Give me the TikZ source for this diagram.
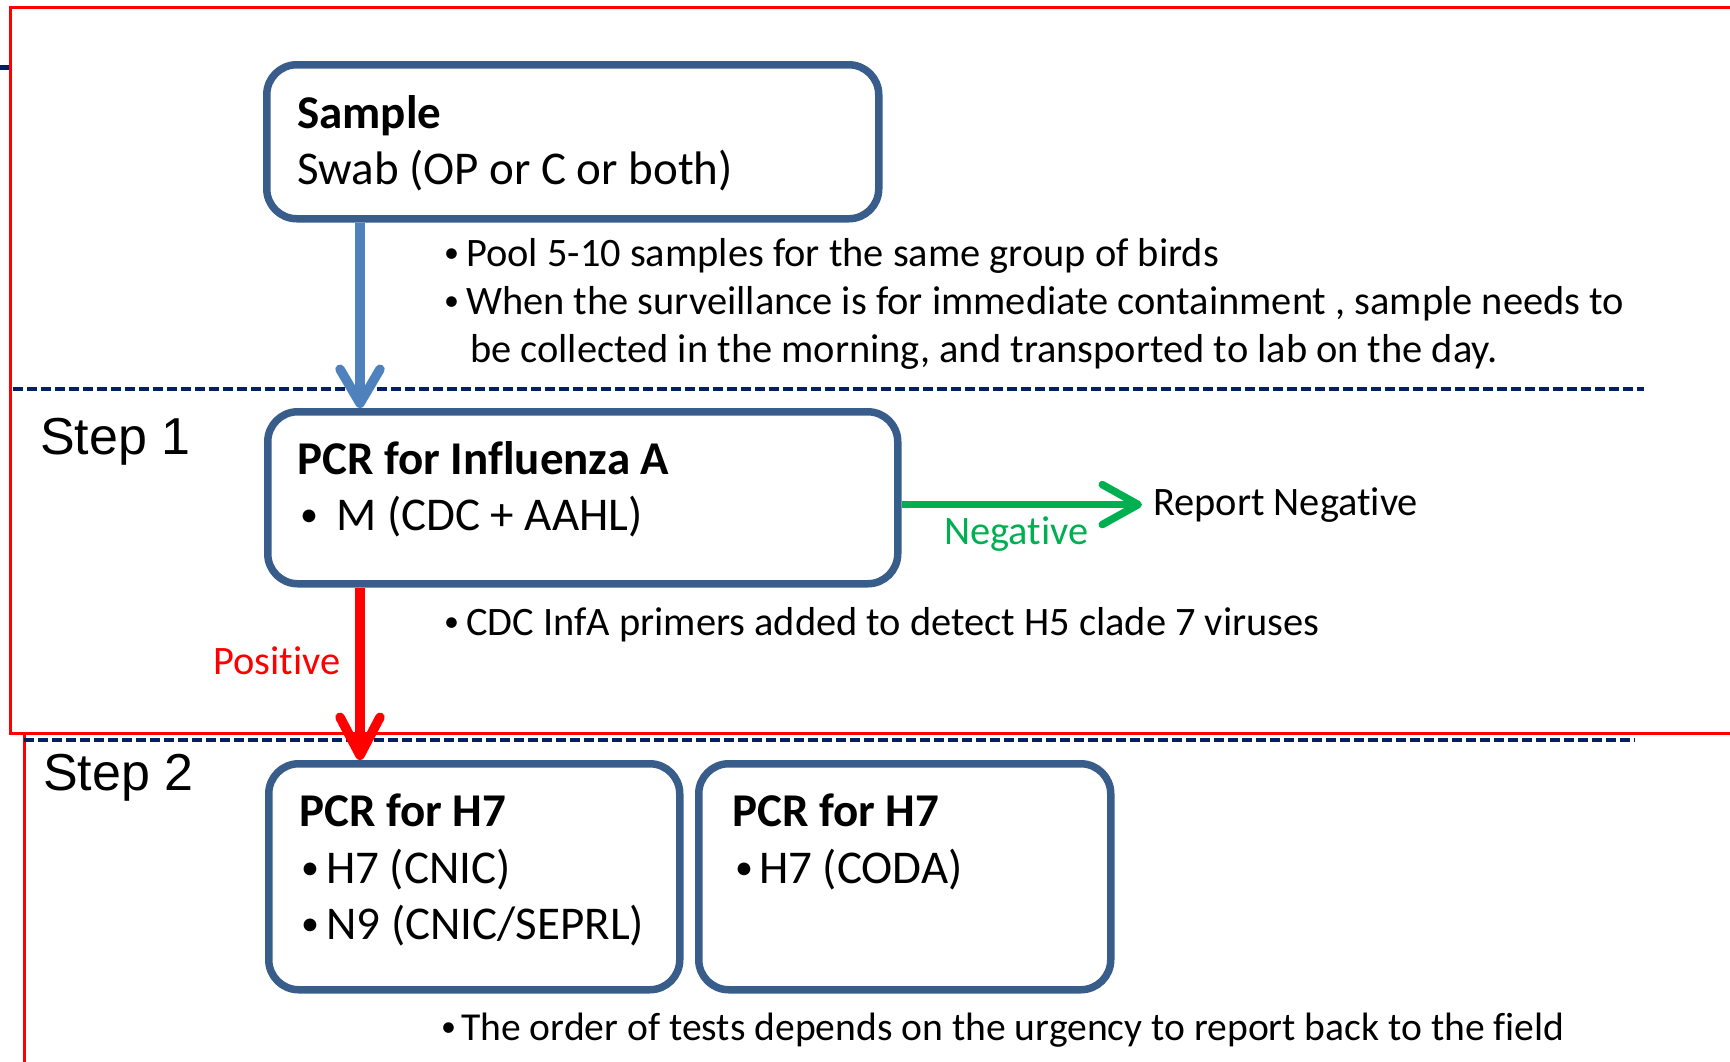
\documentclass[tikz,border=0pt]{standalone}
\usepackage{fontspec}
\setmainfont{Carlito}[Ligatures={TeX,CommonOff}]
\newfontfamily\arialf{Liberation Sans}
\usetikzlibrary{arrows.meta}
\definecolor{boxblue}{RGB}{56,93,138}
\definecolor{arrblue}{RGB}{79,129,189}
\definecolor{navy}{RGB}{0,32,96}
\definecolor{grn}{RGB}{0,176,80}
\definecolor{redc}{RGB}{255,0,0}
\begin{document}
\begin{tikzpicture}[x=1pt,y=-1pt,
  box/.style={draw=boxblue, line width=7.5pt, rounded corners=30pt, inner sep=0pt, anchor=north west},
  big/.style={anchor=base west, inner sep=0pt, font=\fontsize{47}{56}\selectfont},
  bigb/.style={big, font=\fontsize{47}{56}\selectfont\bfseries},
  bigdot/.style={anchor=base west, inner sep=0pt, font=\fontsize{36}{40}\selectfont},
  small/.style={anchor=base west, inner sep=0pt, font=\fontsize{40.4}{48}\selectfont},
  smalldot/.style={anchor=base west, inner sep=0pt, font=\fontsize{30}{36}\selectfont},
  steplbl/.style={anchor=base west, inner sep=0pt, font=\fontsize{52}{60}\arialf\selectfont},
  sep/.style={draw=navy, line width=4.5pt, dash pattern=on 10pt off 4pt},
  frame/.style={draw=redc, line width=3pt},
  flow/.style={line width=8.5pt},
]
\useasboundingbox (0,0) rectangle (1730,1061);

% red frames
\draw[frame] (10,7) rectangle (1760,733);
\draw[frame] (24,733) -- (24,1090);
\draw[navy, line width=5pt] (0,67) -- (9,67);

% dashed separators
\draw[sep] (13,389) -- (1644,389);
\draw[sep] (24,740) -- (1635,740);

% boxes
\node[box, minimum width=612pt, minimum height=154pt] (sample) at (263,61) {};
\node[box, minimum width=630pt, minimum height=172pt] (pcrA) at (264,408) {};
\node[box, minimum width=411pt, minimum height=226pt] (h7a) at (265,760) {};
\node[box, minimum width=412pt, minimum height=226pt] (h7b) at (695,760) {};

% box texts
\node[bigb] (t1) at (297,128) {Sample};
\node[big] (t2) at (297,184) {Swab (OP or C or both)};
\node[bigb] (t3) at (297,474) {PCR for Influenza A};
\node[bigdot] (t4b) at (300,526) {•};
\node[big] (t4) at (336,530) {M (CDC + AAHL)};
\node[bigb] (t5) at (299,826) {PCR for H7};
\node[bigdot] (t6b) at (301,879) {•};
\node[big] (t6) at (326,883) {H7 (CNIC)};
\node[bigdot] (t7b) at (301,935) {•};
\node[big] (t7) at (326,939) {N9 (CNIC/SEPRL)};
\node[bigb] (t8) at (732,826) {PCR for H7};
\node[bigdot] (t9b) at (735,879) {•};
\node[big] (t9) at (759,883) {H7 (CODA)};

% step labels
\node[steplbl] (s1) at (40,454) {Step 1};
\node[steplbl] (s2) at (43,790) {Step 2};

% notes
\node[smalldot] (n1b) at (444,262) {•};
\node[small] (n1) at (466,266) {Pool 5-10 samples for the same group of birds};
\node[smalldot] (n2b) at (444,310) {•};
\node[small] (n2) at (466,314) {When the surveillance is for immediate containment , sample needs to};
\node[small] (n3) at (470,362) {be collected in the morning, and transported to lab on the day.};
\node[smalldot] (n4b) at (444,631) {•};
\node[small] (n4) at (466,635) {CDC InfA primers added to detect H5 clade 7 viruses};
\node[smalldot] (n5b) at (441,1036) {•};
\node[small, font=\fontsize{39.6}{48}\selectfont] (n5) at (461,1040) {The order of tests depends on the urgency to report back to the field};

% result labels
\node[small] (rep) at (1153,515) {Report Negative};
\node[small, text=grn] (neg) at (944,544) {Negative};
\node[small, text=redc] (pos) at (213,674) {Positive};

% connectors
\coordinate (ax) at (360,0);
\draw[flow, arrblue, line width=9.5pt, -{Straight Barb[length=34pt, width=40pt, round]}] (sample.south -| ax) -- (pcrA.north -| ax);
\draw[flow, redc, line width=9.5pt, -{Straight Barb[length=38pt, width=40pt, round]}] (pcrA.south -| ax) -- (h7a.north -| ax);
\draw[flow, grn, line width=7.5pt, -{Straight Barb[length=36pt, width=40pt, round]}] (pcrA.east |- rep.west) -- ([xshift=-11pt]rep.west);
\end{tikzpicture}
\end{document}
